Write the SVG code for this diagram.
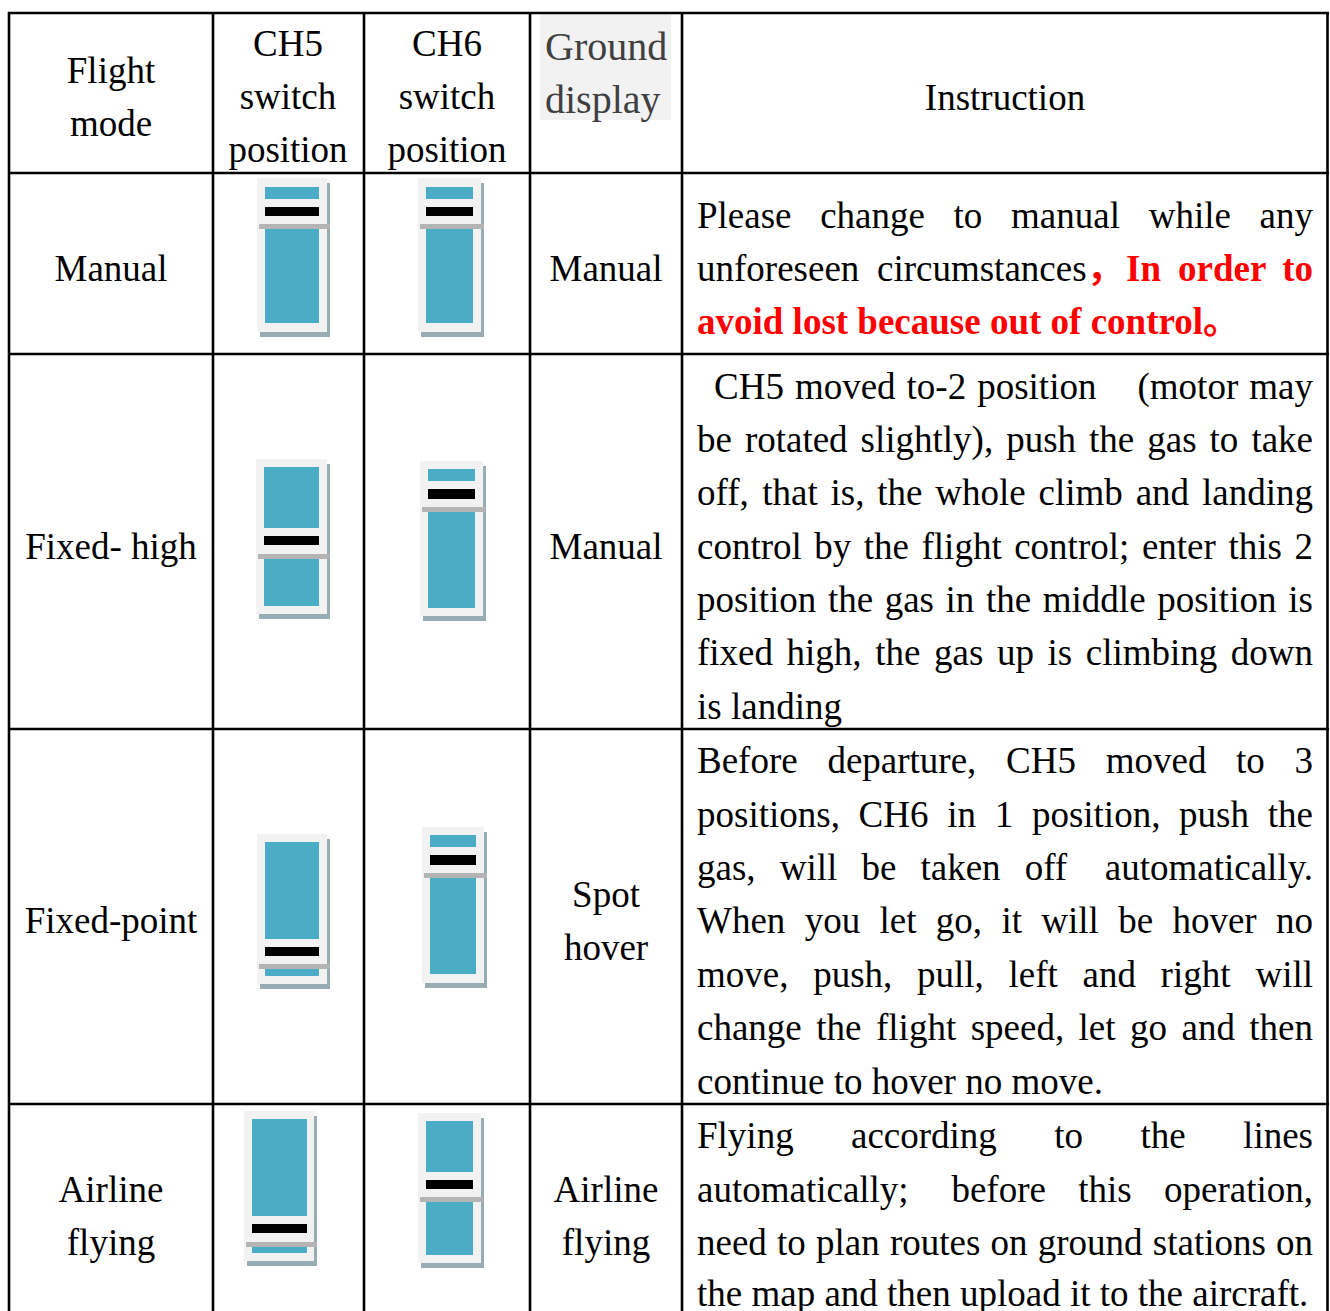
<svg xmlns="http://www.w3.org/2000/svg" width="1330" height="1311" viewBox="0 0 1330 1311" font-family="'Liberation Serif', 'Times New Roman', Times, serif">
<style>
text{font-family:'Liberation Serif','Times New Roman',Times,serif;font-size:37px;fill:#000}
.c{text-anchor:middle}
.e{text-anchor:end}
.r{fill:#ff0000;font-weight:bold}
.cjk{font-family:'Liberation Serif','Noto Sans CJK SC',serif}
.gd{fill:#404040;font-size:40px}
.bg{fill:#f2f2f2}
.sh{fill:#97adb3}
.bl{fill:#4bacc6}
.bk{fill:#000}
.gl{fill:#b4b4b4}
.grid line{stroke:#000;stroke-width:2.6}
</style>
<rect width="1330" height="1311" fill="#fff"/>
<rect x="540" y="14" width="131" height="106" fill="#f2f2f2"/>
<g id="grid" class="grid">
<line x1="8" y1="13" x2="1329" y2="13"/>
<line x1="8" y1="173" x2="1329" y2="173"/>
<line x1="8" y1="354" x2="1329" y2="354"/>
<line x1="8" y1="729" x2="1329" y2="729"/>
<line x1="8" y1="1104" x2="1329" y2="1104"/>
<line x1="9" y1="12" x2="9" y2="1311"/>
<line x1="213" y1="12" x2="213" y2="1311"/>
<line x1="364" y1="12" x2="364" y2="1311"/>
<line x1="530" y1="12" x2="530" y2="1311"/>
<line x1="682" y1="12" x2="682" y2="1311"/>
<line x1="1327.5" y1="12" x2="1327.5" y2="1311"/>
</g>
<g id="header">
<text class="c" x="111" y="83">Flight</text>
<text class="c" x="111" y="136">mode</text>
<text class="c" x="288" y="56">CH5</text>
<text class="c" x="288" y="109">switch</text>
<text class="c" x="288" y="162">position</text>
<text class="c" x="447" y="56">CH6</text>
<text class="c" x="447" y="109">switch</text>
<text class="c" x="447" y="162">position</text>
<text class="gd" x="545" y="60">Ground</text>
<text class="gd" x="545" y="113">display</text>
<text class="c" x="1005" y="110">Instruction</text>
</g>
<g id="row-manual">
<text class="c" x="111" y="281">Manual</text>
<text class="c" x="606" y="281">Manual</text>
<g id="sw-r1-ch5">
<rect class="sh" x="260" y="183" width="70" height="154"/>
<rect class="bg" x="257" y="178" width="70" height="154"/>
<rect class="bl" x="265" y="187" width="54" height="12"/>
<rect class="bk" x="265" y="207" width="54" height="9"/>
<rect class="bl" x="265" y="224" width="54" height="99"/>
<rect class="gl" x="259" y="224" width="71" height="5"/>
</g>
<g id="sw-r1-ch6">
<rect class="sh" x="421" y="183" width="63" height="154"/>
<rect class="bg" x="418" y="178" width="63" height="154"/>
<rect class="bl" x="426" y="187" width="47" height="12"/>
<rect class="bk" x="426" y="207" width="47" height="9"/>
<rect class="bl" x="426" y="224" width="47" height="99"/>
<rect class="gl" x="420" y="224" width="64" height="5"/>
</g>
<text y="228"><tspan x="697">Please</tspan><tspan x="820.2">change</tspan><tspan x="953.6">to</tspan><tspan x="1011.1">manual</tspan><tspan x="1148.7">while</tspan></text>
<text class="e" x="1313" y="228">any</text>
<text y="281"><tspan x="697">unforeseen</tspan><tspan x="877">circumstances</tspan><tspan class="r cjk">，</tspan><tspan class="r" x="1126">In</tspan><tspan class="r" x="1178">order</tspan></text>
<text class="e r" x="1313" y="281">to</text>
<text class="r" x="697" y="334">avoid lost because out of control<tspan class="cjk">。</tspan></text>
</g>
<g id="row-fixed-high">
<text class="c" x="111" y="559">Fixed- high</text>
<text class="c" x="606" y="559">Manual</text>
<g id="sw-r2-ch5">
<rect class="sh" x="259" y="464" width="71" height="155"/>
<rect class="bg" x="256" y="459" width="71" height="155"/>
<rect class="bl" x="264" y="467" width="55" height="61"/>
<rect class="bk" x="264" y="536" width="55" height="9"/>
<rect class="bl" x="264" y="554" width="55" height="52"/>
<rect class="gl" x="258" y="554" width="71" height="5"/>
</g>
<g id="sw-r2-ch6">
<rect class="sh" x="423" y="466" width="63" height="155"/>
<rect class="bg" x="420" y="461" width="63" height="155"/>
<rect class="bl" x="428" y="469" width="47" height="12"/>
<rect class="bk" x="428" y="489" width="47" height="10"/>
<rect class="bl" x="428" y="507" width="47" height="101"/>
<rect class="gl" x="422" y="507" width="63" height="5"/>
</g>
<text y="399"><tspan x="714">CH5</tspan><tspan x="794.9">moved</tspan><tspan x="906.6">to-2</tspan><tspan x="977.2">position</tspan><tspan x="1137.5">(motor</tspan></text>
<text class="e" x="1313" y="399">may</text>
<text y="452"><tspan x="697">be</tspan><tspan x="744.9">rotated</tspan><tspan x="860.6">slightly),</tspan><tspan x="1006.2">push</tspan><tspan x="1089.1">the</tspan><tspan x="1147.3">gas</tspan><tspan x="1209.6">to</tspan></text>
<text class="e" x="1313" y="452">take</text>
<text y="505"><tspan x="697">off,</tspan><tspan x="762.2">that</tspan><tspan x="830.6">is,</tspan><tspan x="877.3">the</tspan><tspan x="935.3">whole</tspan><tspan x="1038.6">climb</tspan><tspan x="1135.7">and</tspan></text>
<text class="e" x="1313" y="505">landing</text>
<text y="559"><tspan x="697">control</tspan><tspan x="814.3">by</tspan><tspan x="863.8">the</tspan><tspan x="921.5">flight</tspan><tspan x="1014.2">control;</tspan><tspan x="1141.9">enter</tspan><tspan x="1228.4">this</tspan></text>
<text class="e" x="1313" y="559">2</text>
<text y="612"><tspan x="697">position</tspan><tspan x="827.9">the</tspan><tspan x="884.7">gas</tspan><tspan x="945.6">in</tspan><tspan x="986">the</tspan><tspan x="1042.8">middle</tspan><tspan x="1157.2">position</tspan></text>
<text class="e" x="1313" y="612">is</text>
<text y="665"><tspan x="697">fixed</tspan><tspan x="786.6">high,</tspan><tspan x="875.2">the</tspan><tspan x="934">gas</tspan><tspan x="996.9">up</tspan><tspan x="1047.5">is</tspan><tspan x="1085.8">climbing</tspan></text>
<text class="e" x="1313" y="665">down</text>
<text x="697" y="719">is landing</text>
</g>
<g id="row-fixed-point">
<text class="c" x="111" y="933">Fixed-point</text>
<text class="c" x="606" y="907">Spot</text>
<text class="c" x="606" y="960">hover</text>
<g id="sw-r3-ch5">
<rect class="sh" x="260" y="839" width="70" height="150"/>
<rect class="bg" x="257" y="834" width="70" height="150"/>
<rect class="bl" x="265" y="842" width="54" height="97"/>
<rect class="bk" x="265" y="947" width="54" height="9"/>
<rect class="bl" x="265" y="964" width="54" height="12"/>
<rect class="gl" x="259" y="964" width="71" height="5"/>
</g>
<g id="sw-r3-ch6">
<rect class="sh" x="425" y="832" width="62" height="156"/>
<rect class="bg" x="422" y="827" width="62" height="156"/>
<rect class="bl" x="430" y="835" width="46" height="12"/>
<rect class="bk" x="430" y="855" width="46" height="10"/>
<rect class="bl" x="430" y="873" width="46" height="101"/>
<rect class="gl" x="424" y="873" width="63" height="5"/>
</g>
<text y="773"><tspan x="697">Before</tspan><tspan x="827.4">departure,</tspan><tspan x="1006.1">CH5</tspan><tspan x="1105.7">moved</tspan><tspan x="1236.1">to</tspan></text>
<text class="e" x="1313" y="773">3</text>
<text y="827"><tspan x="697">positions,</tspan><tspan x="858.6">CH6</tspan><tspan x="947.2">in</tspan><tspan x="994.7">1</tspan><tspan x="1031.9">position,</tspan><tspan x="1179.1">push</tspan></text>
<text class="e" x="1313" y="827">the</text>
<text y="880"><tspan x="697">gas,</tspan><tspan x="779.7">will</tspan><tspan x="861.5">be</tspan><tspan x="920.5">taken</tspan><tspan x="1024.7">off</tspan></text>
<text class="e" x="1313" y="880">automatically.</text>
<text y="933"><tspan x="697">When</tspan><tspan x="804.7">you</tspan><tspan x="879.5">let</tspan><tspan x="935.8">go,</tspan><tspan x="1001.4">it</tspan><tspan x="1041.3">will</tspan><tspan x="1118.2">be</tspan><tspan x="1172.4">hover</tspan></text>
<text class="e" x="1313" y="933">no</text>
<text y="987"><tspan x="697">move,</tspan><tspan x="813.2">push,</tspan><tspan x="917">pull,</tspan><tspan x="1008.5">left</tspan><tspan x="1082.5">and</tspan><tspan x="1160.6">right</tspan></text>
<text class="e" x="1313" y="987">will</text>
<text y="1040"><tspan x="697">change</tspan><tspan x="816.3">the</tspan><tspan x="876">flight</tspan><tspan x="970.7">speed,</tspan><tspan x="1078.6">let</tspan><tspan x="1130.1">go</tspan><tspan x="1181.6">and</tspan></text>
<text class="e" x="1313" y="1040">then</text>
<text x="697" y="1094">continue to hover no move.</text>
</g>
<g id="row-airline">
<text class="c" x="111" y="1202">Airline</text>
<text class="c" x="111" y="1255">flying</text>
<text class="c" x="606" y="1202">Airline</text>
<text class="c" x="606" y="1255">flying</text>
<g id="sw-r4-ch5">
<rect class="sh" x="247" y="1116" width="70" height="150"/>
<rect class="bg" x="244" y="1111" width="70" height="150"/>
<rect class="bl" x="252" y="1119" width="55" height="97"/>
<rect class="bk" x="252" y="1224" width="55" height="9"/>
<rect class="bl" x="252" y="1242" width="55" height="11"/>
<rect class="gl" x="246" y="1242" width="71" height="5"/>
</g>
<g id="sw-r4-ch6">
<rect class="sh" x="421" y="1118" width="63" height="150"/>
<rect class="bg" x="418" y="1113" width="63" height="150"/>
<rect class="bl" x="426" y="1121" width="47" height="51"/>
<rect class="bk" x="426" y="1180" width="47" height="9"/>
<rect class="bl" x="426" y="1197" width="47" height="58"/>
<rect class="gl" x="420" y="1197" width="63" height="5"/>
</g>
<text y="1148"><tspan x="697">Flying</tspan><tspan x="851">according</tspan><tspan x="1054.3">to</tspan><tspan x="1140.5">the</tspan></text>
<text class="e" x="1313" y="1148">lines</text>
<text y="1202"><tspan x="697">automatically;</tspan><tspan x="951.4">before</tspan><tspan x="1078.2">this</tspan></text>
<text class="e" x="1313" y="1202">operation,</text>
<text y="1255"><tspan x="697">need</tspan><tspan x="777.1">to</tspan><tspan x="816.1">plan</tspan><tspan x="890">routes</tspan><tspan x="990.6">on</tspan><tspan x="1037.8">ground</tspan><tspan x="1152.8">stations</tspan></text>
<text class="e" x="1313" y="1255">on</text>
<text x="697" y="1306">the map and then upload it to the aircraft.</text>
</g>
</svg>
